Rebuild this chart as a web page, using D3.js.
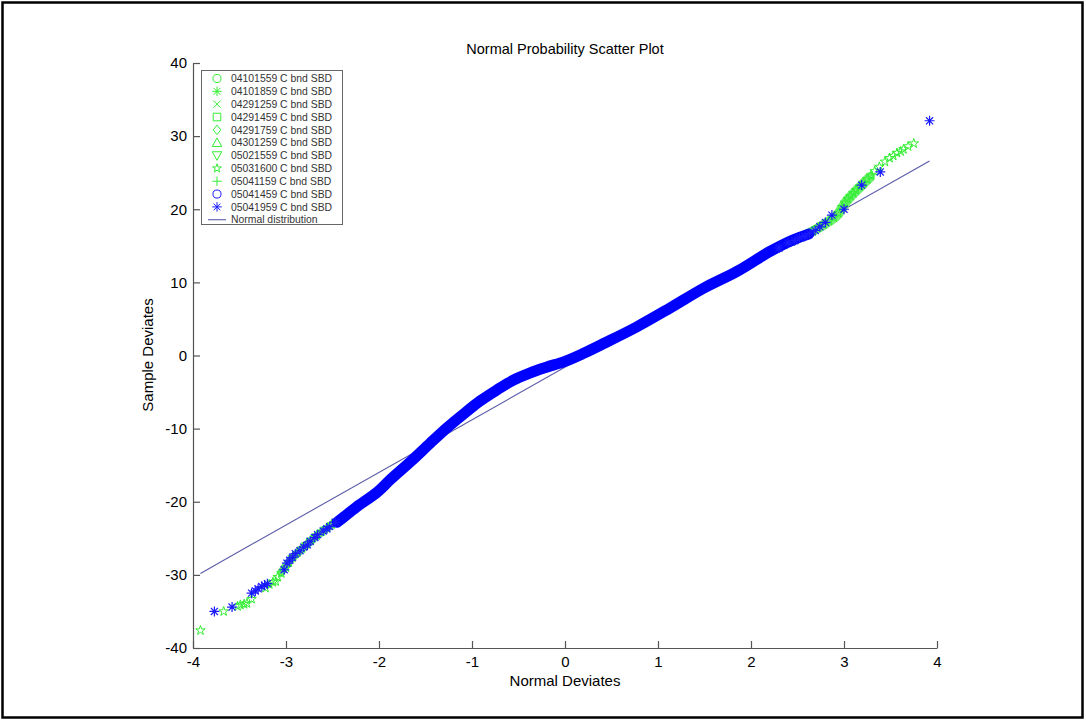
<!DOCTYPE html>
<html><head><meta charset="utf-8">
<script src="https://cdn.jsdelivr.net/npm/d3@7"></script>
<style>
html,body{margin:0;padding:0;background:#fff;}
text{font-family:Arial,"Liberation Sans",Helvetica,sans-serif;}
</style></head>
<body><svg id="c" width="1086" height="727"></svg>
<script>
const title = "Normal Probability Scatter Plot";
const xLabel = "Normal Deviates";
const yLabel = "Sample Deviates";
const xTicks = [-4,-3,-2,-1,0,1,2,3,4];
const yTicks = [-40,-30,-20,-10,0,10,20,30,40];
const seriesNames = ["04101559 C bnd SBD","04101859 C bnd SBD","04291259 C bnd SBD","04291459 C bnd SBD","04291759 C bnd SBD","04301259 C bnd SBD","05021559 C bnd SBD","05031600 C bnd SBD","05041159 C bnd SBD","05041459 C bnd SBD","05041959 C bnd SBD","Normal distribution"];
const seriesMarkers = ["circle","asterisk","x","square","diamond","triangle","triangledown","star","plus","circle","asterisk","line"];
const seriesColors = ["#33ee33","#33ee33","#33ee33","#33ee33","#33ee33","#33ee33","#33ee33","#33ee33","#33ee33","#1a1aff","#1a1aff","#5a5aa8"];

// dense central band of overlapping blue markers (centre line)
const bandX = [-2.45,-2.38,-2.24,-2.02,-1.88,-1.65,-1.45,-1.27,-1.09,-0.91,-0.73,-0.56,-0.38,-0.20,0.0,0.20,0.41,0.77,1.13,1.49,1.85,2.20,2.45,2.62];
const bandY = [-22.8,-22.1,-20.7,-18.7,-17.0,-14.4,-12.0,-9.9,-8.0,-6.2,-4.7,-3.4,-2.4,-1.6,-0.8,0.3,1.6,3.9,6.5,9.2,11.5,14.2,15.8,16.6];

// dense mixed-marker stretches in the tails (centre lines)
const lowTailX = [-3.05,-2.97,-2.90,-2.81,-2.70,-2.60,-2.50,-2.42];
const lowTailY = [-29.6,-28.3,-27.3,-26.3,-25.0,-24.0,-23.1,-22.5];
const highTailX = [2.40,2.50,2.62,2.72,2.82,2.92,2.98,3.04,3.12,3.20,3.28];
const highTailY = [15.5,16.0,16.7,17.4,18.2,19.1,20.2,21.3,22.4,23.4,24.4];

// green pentagram points (05031600)
const greenX = [-3.92,-3.67,-3.52,-3.49,-3.45,-3.42,-3.37,-3.22,-3.18,-3.14,-3.11,-3.09,-3.05,-3.00,-2.97,-2.93,-2.88,-2.83,-2.78,-2.73,-2.67,-2.62,-2.56,-2.51,-2.46,-2.40,-2.32,
  2.30,2.36,2.42,2.48,2.54,2.60,2.66,2.72,2.78,2.84,2.89,2.94,2.98,3.01,3.04,3.07,3.10,3.13,3.17,3.21,3.25,3.29,3.33,3.38,3.44,3.49,3.53,3.57,3.61,3.64,3.69,3.75];
const greenY = [-37.6,-35.0,-34.3,-34.1,-34.0,-33.9,-33.3,-31.8,-31.3,-31.0,-30.9,-30.3,-29.8,-29.0,-28.3,-27.6,-27.0,-26.4,-25.8,-25.2,-24.6,-24.1,-23.6,-23.1,-22.7,-22.2,-21.5,
  14.8,15.2,15.6,15.9,16.2,16.6,17.0,17.5,17.9,18.4,18.9,19.5,20.3,20.9,21.4,21.8,22.2,22.6,23.1,23.6,24.1,24.6,25.2,25.8,26.5,27.0,27.3,27.7,27.9,28.2,28.6,29.0];

// blue asterisk points (05041959)
const blueX = [-3.77,-3.58,-3.37,-3.33,-3.30,-3.26,-3.23,-3.20,-3.02,-2.99,-2.96,-2.93,-2.90,-2.85,-2.81,-2.77,-2.74,-2.69,-2.66,-2.60,-2.56,-2.53,-2.47,
  2.30,2.40,2.47,2.52,2.58,2.63,2.69,2.74,2.80,2.87,3.00,3.19,3.39,3.92];
const blueY = [-35.0,-34.4,-32.5,-32.2,-31.9,-31.6,-31.4,-31.2,-29.3,-28.4,-28.0,-27.6,-27.1,-26.7,-26.2,-25.9,-25.4,-24.9,-24.5,-24.0,-23.7,-23.4,-22.8,
  14.7,15.4,15.7,16.1,16.3,16.7,17.1,17.6,18.2,19.2,20.0,23.3,25.1,32.1];

// fitted normal distribution line
const lineX = [-3.92,3.92];
const lineY = [-29.8,26.6];

const svg = d3.select("#c");
svg.append("rect").attr("x",0).attr("y",0).attr("width",1086).attr("height",727).attr("fill","#fff");
svg.append("rect").attr("x",2.5).attr("y",2.5).attr("width",1080).attr("height",715)
  .attr("fill","none").attr("stroke","#000").attr("stroke-width",2.5);

const x = d3.scaleLinear().domain([-4,4]).range([193,937]);
const y = d3.scaleLinear().domain([-40,40]).range([648,63]);

// custom marker shapes
const asteriskSym = {draw(ctx,size){const r=Math.sqrt(size)/2;const d=r*0.7071;
  ctx.moveTo(-r,0);ctx.lineTo(r,0);ctx.moveTo(0,-r);ctx.lineTo(0,r);
  ctx.moveTo(-d,-d);ctx.lineTo(d,d);ctx.moveTo(-d,d);ctx.lineTo(d,-d);}};
const xSym = {draw(ctx,size){const r=Math.sqrt(size)/2*0.75;
  ctx.moveTo(-r,-r);ctx.lineTo(r,r);ctx.moveTo(-r,r);ctx.lineTo(r,-r);}};
const plusSym = {draw(ctx,size){const r=Math.sqrt(size)/2;
  ctx.moveTo(-r,0);ctx.lineTo(r,0);ctx.moveTo(0,-r);ctx.lineTo(0,r);}};
const triDown = {draw(ctx,size){const r=Math.sqrt(size)/2;
  ctx.moveTo(-r,-r*0.8);ctx.lineTo(r,-r*0.8);ctx.lineTo(0,r);ctx.closePath();}};
const triUp = {draw(ctx,size){const r=Math.sqrt(size)/2;
  ctx.moveTo(-r,r*0.8);ctx.lineTo(r,r*0.8);ctx.lineTo(0,-r);ctx.closePath();}};
const diamondSym = {draw(ctx,size){const r=Math.sqrt(size)/2;
  ctx.moveTo(0,-r);ctx.lineTo(r*0.8,0);ctx.lineTo(0,r);ctx.lineTo(-r*0.8,0);ctx.closePath();}};
const squareSym = {draw(ctx,size){const r=Math.sqrt(size)/2*0.8;
  ctx.rect(-r,-r,2*r,2*r);}};
const circleSym = {draw(ctx,size){const r=Math.sqrt(size)/2*0.85;
  ctx.moveTo(r,0);ctx.arc(0,0,r,0,2*Math.PI);}};
const symMap = {circle:circleSym, asterisk:asteriskSym, x:xSym, square:squareSym, diamond:diamondSym,
  triangle:triUp, triangledown:triDown, star:d3.symbolStar, plus:plusSym};

// axes
const yAxis = d3.axisLeft(y).tickValues(yTicks).tickSizeInner(-7).tickSizeOuter(0).tickPadding(6).tickFormat(d3.format("d"));
const xAxis = d3.axisBottom(x).tickValues(xTicks).tickSizeInner(-7).tickSizeOuter(0).tickPadding(8).tickFormat(d3.format("d"));
const gy = svg.append("g").attr("transform","translate(193,0)").call(yAxis);
const gx = svg.append("g").attr("transform","translate(0,648)").call(xAxis);
[gx,gy].forEach(g=>{
  g.select(".domain").attr("stroke","#555").attr("stroke-width",1.2);
  g.selectAll(".tick line").attr("stroke","#555").attr("stroke-width",1.2);
  g.selectAll(".tick text").attr("fill","#000").attr("font-size",15).style("font-family","Arial, 'Liberation Sans', sans-serif")
    .text(d=>d<0?"-"+Math.abs(d):d);
});

// normal distribution line
const lineData = lineX.map((v,i)=>[v,lineY[i]]);
svg.append("path").datum(lineData)
  .attr("d",d3.line().x(d=>x(d[0])).y(d=>y(d[1])))
  .attr("fill","none").attr("stroke",seriesColors[11]).attr("stroke-width",1.1);

const curveGen = d3.line().x(d=>x(d[0])).y(d=>y(d[1])).curve(d3.curveCatmullRom);

// dense green under-bands in the tails
[[lowTailX,lowTailY,8],[highTailX,highTailY,10]].forEach(([xs,ys,w])=>{
  svg.append("path").datum(xs.map((v,i)=>[v,ys[i]]))
    .attr("d",curveGen).attr("fill","none").attr("stroke","#55ee55")
    .attr("stroke-width",w).attr("stroke-linecap","round").attr("opacity",0.85);
});

// green pentagram markers
const greenData = greenX.map((v,i)=>[v,greenY[i]]);
svg.append("g").selectAll("path").data(greenData).join("path")
  .attr("transform",d=>`translate(${x(d[0])},${y(d[1])})`)
  .attr("d",d3.symbol().type(d3.symbolStar).size(28))
  .attr("fill","none").attr("stroke",seriesColors[7]).attr("stroke-width",1);

// dense blue band
const bandData = bandX.map((v,i)=>[v,bandY[i]]);
svg.append("path").datum(bandData)
  .attr("d",curveGen)
  .attr("fill","none").attr("stroke","#0000ff").attr("stroke-width",11).attr("stroke-linecap","round");

// blue asterisk markers
const blueData = blueX.map((v,i)=>[v,blueY[i]]);
svg.append("g").selectAll("path").data(blueData).join("path")
  .attr("transform",d=>`translate(${x(d[0])},${y(d[1])})`)
  .attr("d",d3.symbol().type(asteriskSym).size(100))
  .attr("fill","none").attr("stroke",seriesColors[10]).attr("stroke-width",1.2);

// title & labels
svg.append("text").attr("x",565).attr("y",54).attr("text-anchor","middle").attr("font-size",14.5).text(title);
svg.append("text").attr("x",565).attr("y",686).attr("text-anchor","middle").attr("font-size",15).text(xLabel);
svg.append("text").attr("transform","translate(153,355) rotate(-90)").attr("text-anchor","middle").attr("font-size",15).text(yLabel);

// legend
const lg = svg.append("g");
lg.append("rect").attr("x",201.5).attr("y",70.5).attr("width",141).attr("height",154)
  .attr("fill","#fff").attr("stroke","#666").attr("stroke-width",1);
seriesNames.forEach((name,i)=>{
  const cy = 78.5 + i*12.84;
  if(seriesMarkers[i]==="line"){
    lg.append("line").attr("x1",208).attr("x2",226).attr("y1",cy).attr("y2",cy)
      .attr("stroke",seriesColors[i]).attr("stroke-width",1.1);
  } else {
    const t = symMap[seriesMarkers[i]];
    const sz = seriesMarkers[i]==="star" ? 24 : 90;
    lg.append("path").attr("transform",`translate(217,${cy})`)
      .attr("d",d3.symbol().type(t).size(sz))
      .attr("fill","none").attr("stroke",seriesColors[i]).attr("stroke-width",1);
  }
  lg.append("text").attr("x",231).attr("y",cy).attr("dy","0.35em").attr("font-size",10.4).attr("fill","#333").text(name);
});
</script></body></html>
